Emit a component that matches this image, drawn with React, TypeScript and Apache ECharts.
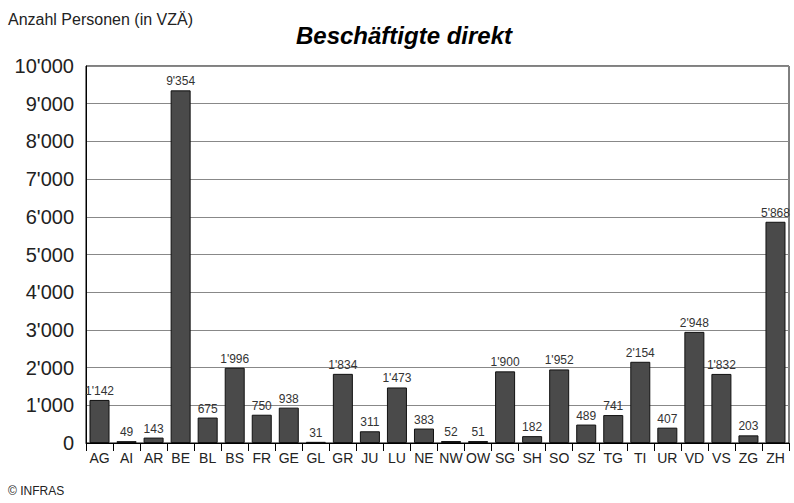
import React, { useEffect, useRef } from "react";
import * as echarts from "echarts";

const categories = ["AG","AI","AR","BE","BL","BS","FR","GE","GL","GR","JU","LU","NE","NW","OW","SG","SH","SO","SZ","TG","TI","UR","VD","VS","ZG","ZH"];
const values = [1142,49,143,9354,675,1996,750,938,31,1834,311,1473,383,52,51,1900,182,1952,489,741,2154,407,2948,1832,203,5868];
const yTicks = [0,1000,2000,3000,4000,5000,6000,7000,8000,9000,10000];

const FONT = "'Liberation Sans Narrow', 'Liberation Sans', Arial, sans-serif";
const fmt = (v: number) => String(Math.round(v)).replace(/\B(?=(\d{3})+(?!\d))/g, "'");

export default function App() {
  const ref = useRef<HTMLDivElement>(null);
  useEffect(() => {
    const chart = echarts.init(ref.current!, null, { renderer: "svg" });
    chart.setOption({
      animation: false,
      backgroundColor: "#ffffff",
      title: [
        { text: "Beschäftigte direkt", left: 399, top: 18, textAlign: "center",
          textStyle: { fontFamily: FONT, fontSize: 24, fontWeight: "bold", fontStyle: "italic", color: "#000" } },
        { text: "Anzahl Personen (in VZÄ)", left: 3, top: 6,
          textStyle: { fontFamily: FONT, fontSize: 16, fontWeight: "normal", color: "#222" } },
        { text: "© INFRAS", left: 3, top: 480,
          textStyle: { fontFamily: FONT, fontSize: 12, fontWeight: "normal", color: "#222" } },
      ],
      grid: { left: 86, right: 5, top: 66, bottom: 60, show: true, borderColor: "#000", borderWidth: 1, backgroundColor: "transparent" },
      xAxis: {
        type: "category",
        data: categories,
        axisLine: { lineStyle: { color: "#000" } },
        axisTick: { show: true, alignWithLabel: false, length: 8, lineStyle: { color: "#000" } },
        axisLabel: { fontFamily: FONT, fontSize: 14, color: "#222", margin: 8, interval: 0 },
      },
      yAxis: {
        type: "value",
        min: 0, max: 10000, interval: 1000,
        axisLine: { show: true, lineStyle: { color: "#000" } },
        axisTick: { show: false },
        splitLine: { lineStyle: { color: "#888", width: 1 } },
        axisLabel: { fontFamily: FONT, fontSize: 20, color: "#222", margin: 12, formatter: (v: number) => fmt(v),
          customValues: yTicks },
      },
      series: [{
        type: "bar",
        data: values,
        barWidth: "74%",
        itemStyle: { color: "#4a4a4a", borderColor: "#111", borderWidth: 1 },
        label: { show: true, position: "top", distance: 3, fontFamily: FONT, fontSize: 12, color: "#333",
          formatter: (p: any) => fmt(p.value) },
      }],
    });
    return () => chart.dispose();
  }, []);
  return <div ref={ref} style={{ width: 794, height: 503, position: "absolute", left: 0, top: 0 }} />;
}
